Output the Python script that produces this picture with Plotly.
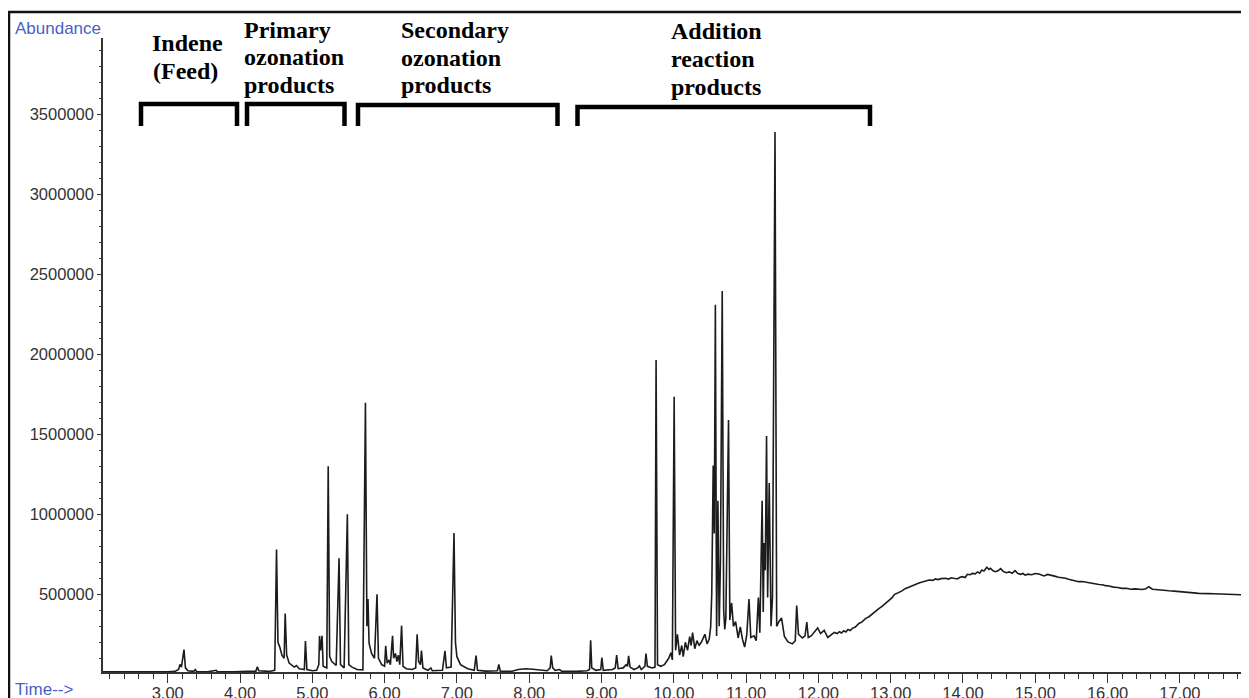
import plotly.graph_objects as go

# ---------------- data ----------------
time_min = [
    2.10, 2.30, 2.50, 2.66, 2.70, 2.80, 2.84, 3.00, 3.10, 3.15, 3.17, 3.19, 3.225, 3.245, 3.28, 3.36, 3.38, 3.40,
    3.55, 3.67, 3.69, 3.90, 4.00, 4.10, 4.22, 4.24, 4.26, 4.40, 4.48, 4.505, 4.525, 4.55, 4.58, 4.61, 4.625, 4.645,
    4.68, 4.75, 4.78, 4.82, 4.89, 4.905, 4.925, 5.00, 5.06, 5.09, 5.10, 5.115, 5.135, 5.15, 5.20, 5.22, 5.24, 5.27,
    5.30, 5.33, 5.37, 5.39, 5.44, 5.485, 5.505, 5.55, 5.62, 5.70, 5.735, 5.755, 5.77, 5.785, 5.82, 5.86, 5.895, 5.915,
    5.96, 6.00, 6.015, 6.035, 6.06, 6.08, 6.11, 6.125, 6.15, 6.17, 6.19, 6.21, 6.235, 6.255, 6.30, 6.38, 6.43, 6.45,
    6.47, 6.495, 6.51, 6.53, 6.60, 6.64, 6.66, 6.80, 6.835, 6.855, 6.92, 6.96, 6.98, 7.00, 7.05, 7.15, 7.24, 7.265,
    7.285, 7.40, 7.56, 7.58, 7.60, 7.75, 7.85, 7.95, 8.05, 8.15, 8.25, 8.29, 8.305, 8.325, 8.36, 8.42, 8.45, 8.65,
    8.80, 8.835, 8.85, 8.865, 8.92, 8.99, 9.005, 9.025, 9.15, 9.19, 9.21, 9.23, 9.30, 9.34, 9.36, 9.375, 9.395, 9.45,
    9.50, 9.525, 9.55, 9.60, 9.615, 9.635, 9.70, 9.74, 9.755, 9.775, 9.82, 9.87, 9.90, 9.93, 9.96, 9.98, 10.005,
    10.025, 10.05, 10.08, 10.11, 10.13, 10.16, 10.19, 10.22, 10.24, 10.26, 10.29, 10.32, 10.35, 10.38, 10.43, 10.46,
    10.49, 10.51, 10.525, 10.545, 10.56, 10.575, 10.592, 10.61, 10.628, 10.645, 10.67, 10.69, 10.705, 10.72, 10.757,
    10.775, 10.80, 10.825, 10.855, 10.89, 10.92, 10.95, 10.98, 11.01, 11.04, 11.065, 11.11, 11.14, 11.17, 11.19,
    11.222, 11.237, 11.25, 11.265, 11.283, 11.298, 11.32, 11.345, 11.365, 11.40, 11.423, 11.455, 11.49, 11.53, 11.58,
    11.64, 11.68, 11.70, 11.725, 11.78, 11.815, 11.84, 11.86, 11.90, 11.94, 11.99, 12.03, 12.08, 12.13, 12.18, 12.22,
    12.26, 12.29, 12.32, 12.35, 12.38, 12.41, 12.44, 12.47, 12.51, 12.56, 12.60, 12.655, 12.70, 12.75, 12.79, 12.84,
    12.88, 12.93, 12.97, 13.02, 13.05, 13.10, 13.15, 13.20, 13.25, 13.30, 13.35, 13.40, 13.45, 13.50, 13.53, 13.58,
    13.62, 13.65, 13.70, 13.76, 13.80, 13.84, 13.88, 13.92, 13.96, 13.99, 14.03, 14.06, 14.10, 14.13, 14.17, 14.20,
    14.23, 14.26, 14.29, 14.33, 14.36, 14.38, 14.42, 14.45, 14.49, 14.52, 14.56, 14.60, 14.64, 14.68, 14.72, 14.76,
    14.80, 14.83, 14.86, 14.90, 14.95, 15.00, 15.05, 15.09, 15.12, 15.17, 15.23, 15.28, 15.32, 15.37, 15.42, 15.46,
    15.50, 15.55, 15.60, 15.65, 15.70, 15.74, 15.78, 15.83, 15.88, 15.93, 15.97, 16.02, 16.08, 16.14, 16.20, 16.26,
    16.32, 16.38, 16.43, 16.48, 16.53, 16.57, 16.60, 16.62, 16.66, 16.71, 16.78, 16.85, 16.92, 16.99, 17.05, 17.12,
    17.19, 17.26, 17.33, 17.40, 17.47, 17.54, 17.58, 17.62, 17.68, 17.75, 17.80, 17.85, 17.90, 17.956,
]
abundance = [
    15000, 16000, 15000, 17000, 15000, 20000, 16000, 15000, 18000, 30000, 62000, 45000, 155000, 40000, 22000, 18000, 30000, 17000,
    15000, 25000, 15000, 15000, 17000, 15000, 20000, 47000, 22000, 18000, 25000, 780000, 200000, 170000, 120000, 100000, 380000, 120000,
    70000, 45000, 55000, 35000, 30000, 208000, 30000, 22000, 25000, 60000, 240000, 150000, 240000, 50000, 40000, 1300000, 110000, 80000,
    70000, 55000, 725000, 60000, 40000, 1000000, 60000, 45000, 30000, 28000, 1697000, 300000, 470000, 195000, 130000, 100000, 500000, 100000,
    60000, 50000, 178000, 70000, 90000, 60000, 240000, 100000, 130000, 80000, 120000, 60000, 304000, 50000, 35000, 30000, 40000, 250000,
    80000, 60000, 148000, 40000, 25000, 40000, 22000, 25000, 146000, 40000, 45000, 883000, 200000, 110000, 60000, 35000, 25000, 117000,
    25000, 20000, 22000, 62000, 20000, 18000, 30000, 35000, 32000, 28000, 22000, 40000, 117000, 40000, 25000, 30000, 20000, 18000,
    22000, 30000, 212000, 40000, 25000, 30000, 105000, 25000, 30000, 40000, 120000, 35000, 40000, 60000, 50000, 115000, 45000, 30000,
    40000, 52000, 30000, 50000, 130000, 50000, 40000, 45000, 1965000, 60000, 50000, 60000, 80000, 100000, 135000, 90000, 1735000,
    150000, 250000, 120000, 180000, 110000, 200000, 150000, 236000, 180000, 260000, 160000, 210000, 180000, 200000, 250000, 190000,
    220000, 296000, 500000, 1305000, 880000, 2310000, 240000, 1085000, 300000, 700000, 2395000, 400000, 280000, 350000, 1590000,
    340000, 446000, 300000, 330000, 227000, 296000, 219000, 170000, 250000, 471000, 230000, 240000, 210000, 480000, 260000,
    1085000, 390000, 820000, 650000, 1490000, 480000, 1196000, 300000, 480000, 3390000, 300000, 330000, 352000, 236000, 202000,
    190000, 210000, 430000, 250000, 227000, 240000, 327000, 230000, 240000, 265000, 290000, 255000, 275000, 230000, 250000, 262000,
    255000, 266000, 258000, 272000, 265000, 280000, 274000, 287000, 295000, 318000, 326000, 350000, 360000, 380000, 392000, 412000,
    425000, 445000, 458000, 479000, 498000, 508000, 520000, 535000, 545000, 552000, 566000, 572000, 578000, 585000, 589000, 587000,
    596000, 592000, 598000, 600000, 595000, 603000, 598000, 596000, 606000, 610000, 605000, 625000, 622000, 631000, 628000, 640000,
    632000, 652000, 645000, 669000, 655000, 662000, 645000, 641000, 648000, 660000, 642000, 635000, 640000, 631000, 648000, 630000,
    625000, 630000, 620000, 626000, 622000, 630000, 627000, 618000, 615000, 624000, 620000, 612000, 607000, 605000, 600000, 594000,
    590000, 586000, 579000, 580000, 575000, 572000, 569000, 566000, 561000, 560000, 554000, 552000, 545000, 543000, 537000, 538000,
    532000, 534000, 531000, 530000, 535000, 548000, 538000, 532000, 530000, 527000, 525000, 522000, 520000, 516000, 514000, 510000,
    509000, 506000, 507000, 504000, 503000, 502000, 505000, 500000, 499000, 498000, 499000, 497000, 497000, 496000,
]

region_lines = [
    ["Indene", "(Feed)"],
    ["Primary", "ozonation", "products"],
    ["Secondary", "ozonation", "products"],
    ["Addition", "reaction", "products"],
]

# ---------------- layout helpers (page pixel -> paper) ----------------
# The page body has an 8px margin, so the figure starts at (8, 8) in the window.
OFF = 8
W, H = 1249 - OFF, 698 - OFF
PL, PT, PW, PH = 103, 38, 1146, 634  # plot area in window pixels


def xp(px):
    return (px - PL) / PW


def yp(py):
    return (PT + PH - py) / PH


fig = go.Figure()
fig.add_trace(go.Scatter(x=time_min, y=abundance, mode="lines",
                         line=dict(color="#1c1c1c", width=1.6), hoverinfo="skip"))

tick_font = dict(family="Liberation Sans, Arial, sans-serif", size=16.5, color="#333333")
fig.update_layout(
    width=W, height=H,
    margin=dict(l=PL - OFF, r=W - (PL - OFF) - PW, t=PT - OFF, b=H - (PT - OFF) - PH),
    paper_bgcolor="white", plot_bgcolor="white",
    showlegend=False,
    xaxis=dict(range=[2.105, 17.956], dtick=1, tick0=0, tickformat=".2f",
               automargin=False, ticklabelstandoff=-4,
               ticks="outside", ticklen=9, tickwidth=1, tickcolor="#333333",
               showline=True, linecolor="#333333", linewidth=1.5,
               showgrid=False, zeroline=False, tickfont=tick_font,
               minor=dict(dtick=0.2, tick0=0, ticks="outside", ticklen=5, tickwidth=1,
                          tickcolor="#333333", showgrid=False)),
    yaxis=dict(range=[14375, 3976875], dtick=500000, tick0=0, tickformat="d",
               automargin=False,
               ticks="outside", ticklen=4, tickwidth=1, tickcolor="#333333",
               showline=True, linecolor="#333333", linewidth=1.5,
               showgrid=False, zeroline=False, tickfont=tick_font,
               minor=dict(dtick=100000, tick0=0, ticks="outside", ticklen=2, tickwidth=1,
                          tickcolor="#333333", showgrid=False)),
)

blue = "#4a5fc4"
label_font = dict(family="Liberation Sans, Arial, sans-serif", size=17, color=blue)
fig.add_annotation(text="Abundance", x=xp(13), y=yp(28), xref="paper", yref="paper",
                   xanchor="left", yanchor="middle", showarrow=False, font=label_font)
fig.add_annotation(text="Time-->", x=xp(13), y=yp(689), xref="paper", yref="paper",
                   xanchor="left", yanchor="middle", showarrow=False, font=label_font)

# region labels
serif = dict(family="Liberation Serif, Times New Roman, serif", size=24, color="black", weight="bold")
label_pos = [
    ([187.7, 185.5], "center", [43.5, 70.5]),
    ([242, 242, 242], "left", [29.5, 57, 84.5]),
    ([398.5, 398.5, 398.5], "left", [30, 58, 85.5]),
    ([669, 669, 669], "left", [31, 59, 87]),
]
for lines, (xs, anc, ys) in zip(region_lines, label_pos):
    for txt, x, y in zip(lines, xs, ys):
        fig.add_annotation(text=txt, x=xp(x), y=yp(y), xref="paper", yref="paper",
                           xanchor=anc, yanchor="middle", showarrow=False, font=serif)

# brackets
brackets = [(141, 237, 104), (247, 344.5, 104), (358, 557.5, 105), (577.5, 870, 107)]
for x1, x2, yt in brackets:
    yb = 126
    path = f"M {xp(x1)},{yp(yb)} L {xp(x1)},{yp(yt)} L {xp(x2)},{yp(yt)} L {xp(x2)},{yp(yb)}"
    fig.add_shape(type="path", path=path, xref="paper", yref="paper",
                  line=dict(color="black", width=4.5))

# outer frame of the figure
fig.add_shape(type="rect", x0=xp(9), x1=xp(1300), y0=yp(12), y1=yp(760),
              xref="paper", yref="paper", line=dict(color="#111111", width=2.5))

fig.write_html("out.html")
